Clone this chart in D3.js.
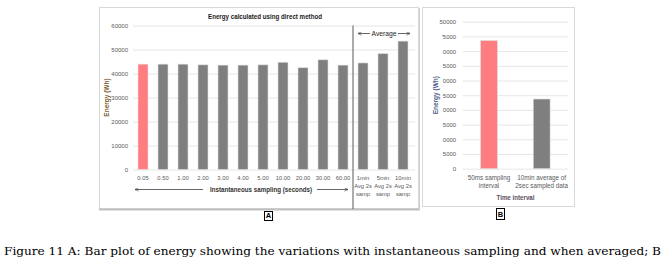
<!DOCTYPE html>
<html><head><meta charset="utf-8">
<script src="https://cdn.jsdelivr.net/npm/d3@7"></script>
<style>
body{margin:0;background:#fff;}
svg{display:block;font-family:"Liberation Sans",Arial,sans-serif;}
</style></head>
<body>
<svg id="c" width="671" height="269"></svg>
<script>
// ---------- data ----------
const catsA = ["0.05","0.50","1.00","2.00","3.00","4.00","5.00","10.00","20.00","30.00","60.00","1min\nAvg 2s\nsamp","5min\nAvg 2s\nsamp","10min\nAvg 2s\nsamp"];
const valsA = [43900,43900,43900,43600,43500,43500,43600,44700,42400,45700,43500,44400,48300,53500];
const colorsA = ["#ff7c80","#7f7f7f","#7f7f7f","#7f7f7f","#7f7f7f","#7f7f7f","#7f7f7f","#7f7f7f","#7f7f7f","#7f7f7f","#7f7f7f","#7f7f7f","#7f7f7f","#7f7f7f"];
const ticksA = [0,10000,20000,30000,40000,50000,60000];

const catsB = ["50ms sampling\ninterval","10min average of\n2sec sampled data"];
const valsB = [43600,23700];
const colorsB = ["#ff7c80","#7f7f7f"];
const ticksB = [0,5000,10000,15000,20000,25000,30000,35000,40000,45000,50000];
const tickLabelsB = ["0","5000","0000","5000","0000","5000","0000","5000","0000","'5000","50000"];

const titleA = "Energy calculated using direct method";
const caption = "Figure 11 A: Bar plot of energy showing the variations with instantaneous sampling and when averaged; B";

// ---------- drawing ----------
const svg = d3.select("#c");
const tickCol = "#595959";

// Chart A frame
svg.append("rect").attr("x",99.5).attr("y",7.5).attr("width",319).attr("height",201)
  .attr("fill","#fff").attr("stroke","#d9d9d9");
svg.append("line").attr("x1",99).attr("x2",420).attr("y1",209.5).attr("y2",209.5).attr("stroke","#bfbfbf").attr("stroke-width",2);
svg.append("line").attr("x1",419.5).attr("x2",419.5).attr("y1",8).attr("y2",210).attr("stroke","#d0d0d0").attr("stroke-width",1);

// Chart B frame
svg.append("rect").attr("x",422.5).attr("y",7.5).attr("width",152).attr("height",199)
  .attr("fill","#fff").attr("stroke","#d9d9d9");

// ---- Chart A ----
const xA = d3.scaleBand().domain(catsA).range([133,413]).paddingInner(0.5).paddingOuter(0.25);
const yA = d3.scaleLinear().domain([0,60000]).range([169.5,25.5]);

const gyA = svg.append("g").attr("transform","translate(133,0)")
  .call(d3.axisLeft(yA).tickValues(ticksA).tickSize(-282).tickPadding(5).tickFormat(d3.format("d")));
gyA.select(".domain").remove();
gyA.selectAll(".tick line").attr("stroke","#e6e6e6");
gyA.selectAll(".tick text").attr("fill",tickCol).style("font-size","6px");

svg.append("g").selectAll("rect").data(valsA).join("rect")
  .attr("x",(d,i)=>xA(catsA[i])).attr("width",xA.bandwidth())
  .attr("y",d=>yA(d)).attr("height",d=>yA(0)-yA(d))
  .attr("fill",(d,i)=>colorsA[i]).attr("stroke","#e0e0e0").attr("stroke-width",0.6);

const gxA = svg.append("g").attr("transform",`translate(0,${yA(0)})`)
  .call(d3.axisBottom(xA).tickSize(0).tickPadding(0));
gxA.select(".domain").remove();
gxA.selectAll(".tick text").each(function(d){
  const t = d3.select(this); const lines = d.split("\n");
  t.text(null).attr("fill",tickCol).style("font-size","5.8px").attr("y",0).attr("dy",null);
  lines.forEach((l,k)=>t.append("tspan").attr("x",0).attr("y",10+k*8.3).text(l));
});

// divider
const xDiv = (xA(catsA[10]) + xA(catsA[11]) + xA.bandwidth())/2;
svg.append("line").attr("x1",xDiv).attr("x2",xDiv).attr("y1",yA(60000)).attr("y2",209)
  .attr("stroke","#595959").attr("stroke-width",1);

// title A
svg.append("text").attr("x",265).attr("y",19).attr("text-anchor","middle")
  .style("font-size","7.5px").style("font-weight","bold").attr("fill","#1a1a1a")
  .attr("textLength",114).attr("lengthAdjust","spacingAndGlyphs").text(titleA);

// y-title A
svg.append("text").attr("transform",`translate(109,${(yA(0)+yA(60000))/2}) rotate(-90)`)
  .attr("text-anchor","middle").style("font-size","6.5px").style("font-weight","bold")
  .attr("fill","#7a6030").text("Energy (Wh)");

// arrow markers
const defs = svg.append("defs");
defs.append("marker").attr("id","ah").attr("viewBox","0 0 10 10").attr("refX",9).attr("refY",5)
  .attr("markerWidth",5).attr("markerHeight",5).attr("orient","auto-start-reverse")
  .append("path").attr("d","M0,1 L10,5 L0,9").attr("fill","none").attr("stroke","#404040").attr("stroke-width",1.5);

function arrow(x1,x2,y,start){
  const l = svg.append("line").attr("x1",x1).attr("x2",x2).attr("y1",y).attr("y2",y)
    .attr("stroke","#404040").attr("stroke-width",0.8);
  if(start) l.attr("marker-start","url(#ah)"); else l.attr("marker-end","url(#ah)");
}
// Average
svg.append("text").attr("x",384).attr("y",35.5).attr("text-anchor","middle")
  .style("font-size","6.5px").attr("fill","#262626").attr("textLength",25).attr("lengthAdjust","spacingAndGlyphs").text("Average");
arrow(358,370,33.5,true); arrow(398,410,33.5,false);

// Instantaneous sampling
svg.append("text").attr("x",261).attr("y",191.5).attr("text-anchor","middle")
  .style("font-size","7px").style("font-weight","bold").attr("fill","#333")
  .attr("textLength",102).attr("lengthAdjust","spacingAndGlyphs").text("Instantaneous sampling (seconds)");
arrow(135,203,189.5,true); arrow(317,348,189.5,false);

// ---- Chart B ----
const xB = d3.scaleBand().domain(catsB).range([462.7,568]).paddingInner(0.68).paddingOuter(0.34);
const yB = d3.scaleLinear().domain([0,50000]).range([168.7,21.7]);

const gyB = svg.append("g").attr("transform","translate(462.7,0)")
  .call(d3.axisLeft(yB).tickValues(ticksB).tickSize(-105.3).tickPadding(6.5).tickFormat((d,i)=>tickLabelsB[i]));
gyB.select(".domain").remove();
gyB.selectAll(".tick line").attr("stroke","#e6e6e6");
gyB.selectAll(".tick text").attr("fill",tickCol).style("font-size","6px");

svg.append("g").selectAll("rect").data(valsB).join("rect")
  .attr("x",(d,i)=>xB(catsB[i])).attr("width",xB.bandwidth())
  .attr("y",d=>yB(d)).attr("height",d=>yB(0)-yB(d))
  .attr("fill",(d,i)=>colorsB[i]).attr("stroke","#e0e0e0").attr("stroke-width",0.6);

const gxB = svg.append("g").attr("transform",`translate(0,${yB(0)})`)
  .call(d3.axisBottom(xB).tickSize(0).tickPadding(0));
gxB.select(".domain").remove();
gxB.selectAll(".tick text").each(function(d){
  const t = d3.select(this); const lines = d.split("\n");
  t.text(null).attr("fill",tickCol).style("font-size","6.3px").attr("y",0).attr("dy",null);
  lines.forEach((l,k)=>t.append("tspan").attr("x",0).attr("y",11+k*8.3).text(l));
});

svg.append("text").attr("x",515.5).attr("y",199.5).attr("text-anchor","middle")
  .style("font-size","7px").style("font-weight","bold").attr("fill","#5a5060")
  .attr("textLength",38).attr("lengthAdjust","spacingAndGlyphs").text("Time interval");

svg.append("text").attr("transform",`translate(438,${(yB(0)+yB(50000))/2}) rotate(-90)`)
  .attr("text-anchor","middle").style("font-size","6.5px").style("font-weight","bold")
  .attr("fill","#4a5a8a").text("Energy (Wh)");

// boxed labels
function boxLabel(cx,y0,w,h,txt){
  svg.append("rect").attr("x",cx-w/2).attr("y",y0).attr("width",w).attr("height",h)
    .attr("fill","#fff").attr("stroke","#000").attr("stroke-width",1);
  svg.append("text").attr("x",cx).attr("y",y0+h-2.2).attr("text-anchor","middle")
    .style("font-size","7.5px").style("font-weight","bold").attr("fill","#000").text(txt);
}
boxLabel(268.5,211.5,8,9,"A");
boxLabel(500.5,208.5,8,11,"B");

// caption
svg.append("text").attr("x",4).attr("y",255).style("font-family","'DejaVu Serif',serif")
  .style("font-size","10.5px").attr("fill","#000")
  .attr("textLength",657).attr("lengthAdjust","spacingAndGlyphs").text(caption);
</script>
</body></html>
